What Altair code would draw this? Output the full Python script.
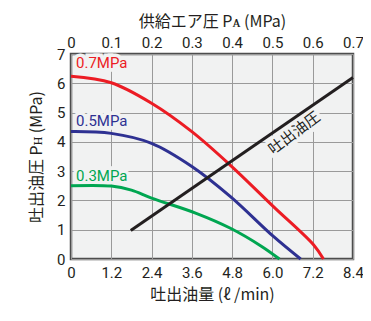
import altair as alt
import pandas as pd

red_x = [0, 1.2, 2.4, 3.6, 4.75, 6.03, 7.23, 7.52]
red_y = [6.24, 6.02, 5.32, 4.35, 3.2, 1.79, 0.48, 0]
blue_x = [0, 1.2, 2.4, 3.6, 4.75, 6.03, 6.84]
blue_y = [4.35, 4.29, 3.95, 3.16, 2.13, 0.77, 0]
green_x = [0, 1.2, 1.8, 2.4, 3.73, 4.75, 5.68, 6.21]
green_y = [2.5, 2.49, 2.35, 2.08, 1.56, 1.05, 0.43, 0]
black_x = [1.78, 8.4]
black_y = [0.97, 6.2]

x_ticks = [0, 1.2, 2.4, 3.6, 4.8, 6.0, 7.2, 8.4]
pa_ticks = [0, 0.1, 0.2, 0.3, 0.4, 0.5, 0.6, 0.7]
y_ticks = [0, 1, 2, 3, 4, 5, 6, 7]

series = [("0.7MPa", red_x, red_y), ("0.5MPa", blue_x, blue_y),
          ("0.3MPa", green_x, green_y), ("吐出油圧", black_x, black_y)]
colors = ["#ec1c24", "#2e3192", "#00a651", "#231f20"]
BG = "#f1f2f2"

rows = []
for name, xs, ys in series:
    for i, (a, b) in enumerate(zip(xs, ys)):
        rows.append({"s": name, "x": a, "y": b, "o": i})
df = pd.DataFrame(rows)

labels = pd.DataFrame({
    "s": ["0.7MPa", "0.5MPa", "0.3MPa"],
    "x": [0.15, 0.15, 0.15],
    "y": [6.52, 4.55, 2.68],
})
line_label = pd.DataFrame({"s": ["吐出油圧"], "x": [6.65], "y": [4.3]})

FONT = "Roboto"
CJK = "Noto Sans CJK JP"

xscale = alt.Scale(domain=[0, 8.4], nice=False, zero=False)
yscale = alt.Scale(domain=[0, 7], nice=False)
cscale = alt.Scale(domain=[s[0] for s in series], range=colors)

xaxis = alt.Axis(values=x_ticks, title="吐出油量 (ℓ /min)", grid=True, labelFlush=False,
                 labelExpr="datum.value == 0 ? '0' : format(datum.value, '.1f')",
                 ticks=False, domain=False, labelPadding=6, titlePadding=6)
yaxis = alt.Axis(values=y_ticks, title="吐出油圧 Pʜ (MPa)", grid=True, labelFlush=False,
                 ticks=False, domain=False, labelPadding=6, titlePadding=12)

X = alt.X("x:Q", scale=xscale, axis=xaxis)
Y = alt.Y("y:Q", scale=yscale, axis=yaxis)

lines = alt.Chart(df).mark_line(strokeWidth=3, interpolate="catmull-rom").encode(
    x=X, y=Y,
    color=alt.Color("s:N", scale=cscale, legend=None),
    order="o:Q",
    detail="s:N",
)

txt_halo = alt.Chart(labels).mark_text(align="left", baseline="alphabetic", fontSize=15, font=FONT,
                                       fill=BG, stroke=BG, strokeWidth=7).encode(
    x=X, y=Y, text="s:N",
)
txt = alt.Chart(labels).mark_text(align="left", baseline="alphabetic", fontSize=15, font=FONT).encode(
    x=X, y=Y,
    color=alt.Color("s:N", scale=cscale, legend=None),
    text="s:N",
)

ltxt_halo = alt.Chart(line_label).mark_text(align="center", baseline="middle", fontSize=15,
                                            font=CJK, angle=323, fill=BG, stroke=BG,
                                            strokeWidth=7).encode(
    x=X, y=Y, text="s:N",
)
ltxt = alt.Chart(line_label).mark_text(align="center", baseline="middle", fontSize=15,
                                       font=CJK, angle=323, color="#231f20").encode(
    x=X, y=Y,
    text="s:N",
)

bottom = alt.layer(txt_halo, ltxt_halo, lines, txt, ltxt)

top_df = pd.DataFrame({"pa": [0, 0.7]})
top = alt.Chart(top_df).mark_point(opacity=0).encode(
    x=alt.X("pa:Q", scale=alt.Scale(domain=[0, 0.7], nice=False),
            axis=alt.Axis(orient="top", values=pa_ticks, title="供給エア圧 Pᴀ (MPa)",
                          grid=False, ticks=False, domain=False, labelPadding=4, titlePadding=6,
                          labelFlush=False,
                          labelExpr="datum.value == 0 ? '0' : format(datum.value, '.1f')")),
)

chart = alt.layer(bottom, top).resolve_scale(x="independent").properties(
    width=282, height=205,
    autosize=alt.AutoSizeParams(type="none"),
    padding={"left": 63, "top": 46, "right": 10, "bottom": 50},
).configure_view(
    fill=BG, stroke="#4d4d4d", strokeWidth=2.5
).configure_axis(
    labelFont=FONT, labelFontSize=15, labelColor="#231f20",
    titleFont=CJK, titleFontSize=16, titleFontWeight="normal", titleColor="#231f20",
    gridColor="#9a9a9a", gridWidth=1, gridOpacity=1,
)

chart.save("out.html", embed_options={"renderer": "svg", "actions": False})
